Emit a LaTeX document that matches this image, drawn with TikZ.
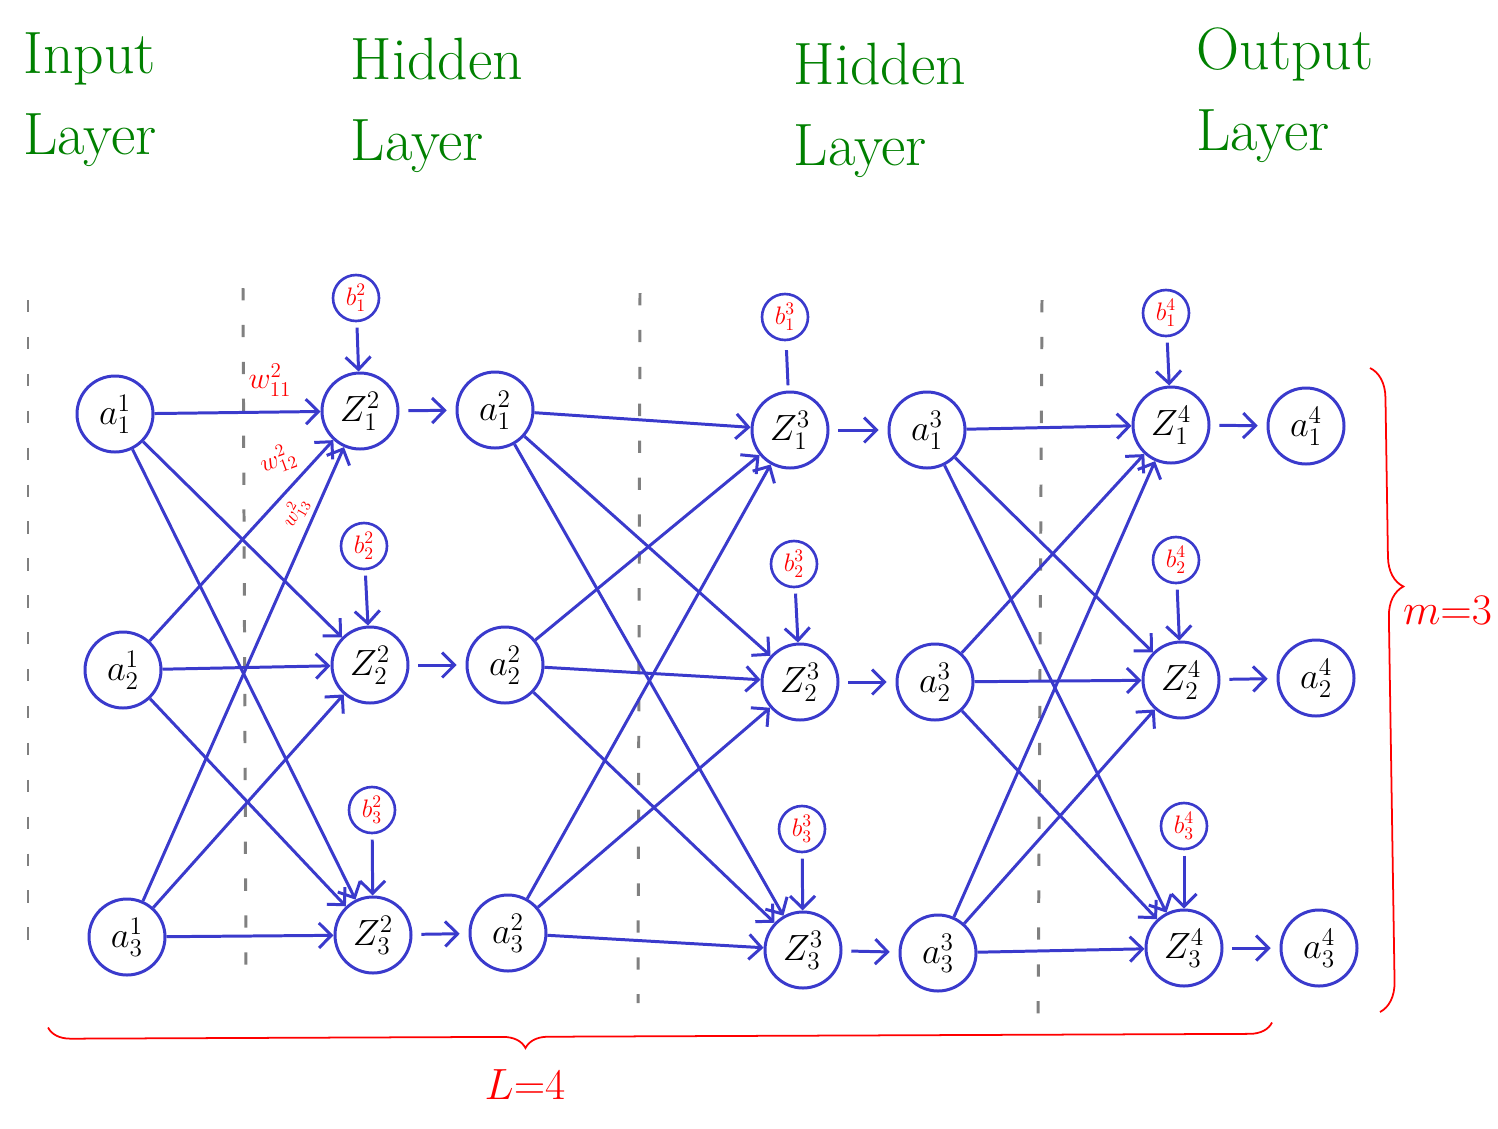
\documentclass[tikz,border=0pt]{standalone}
\usepackage{amsmath,amssymb}
\usepackage{xcolor}
\usetikzlibrary{arrows.meta,decorations.pathreplacing}
\definecolor{azul}{RGB}{58,58,204}
\definecolor{verde}{RGB}{0,128,0}
\definecolor{rojo}{RGB}{255,0,0}
\tikzset{
  neurona/.style={circle, draw=azul, line width=1.7pt, minimum size=1.52cm, inner sep=0pt, font=\huge},
  sesgo/.style={circle, draw=azul, line width=1.5pt, minimum size=0.92cm, inner sep=0pt, font=\Large, text=rojo},
  flecha/.style={-{Straight Barb[length=2.5mm,width=5mm]}, draw=azul, line width=1.7pt},
  paso/.style={flecha, shorten <=5pt, shorten >=5pt},
  capa/.style={align=left, text=verde, font=\fontsize{34}{46}\selectfont},
  corte/.style={gray, line width=1.7pt, dash pattern=on 7pt off 14pt},
  llave/.style={rojo, line width=1pt, decorate},
  etiq/.style={text=rojo, inner sep=1pt},
  peso/.style={etiq, font=\LARGE}
}
\begin{document}
\begin{tikzpicture}
\useasboundingbox (0,0) rectangle (29.96,-22.56);

\node[capa] (t1) at (1.8,-2.0) {Input\\Layer};
\node[capa] (t2) at (8.74,-2.1) {Hidden\\Layer};
\node[capa] (t3) at (17.6,-2.2) {Hidden\\Layer};
\node[capa] (t4) at (25.7,-1.9) {Output\\Layer};

\draw[corte] (0.56,-6.0) -- (0.56,-18.8);
\draw[corte] (4.86,-5.76) -- (4.92,-19.4);
\draw[corte] (12.8,-5.86) -- (12.76,-20.06);
\draw[corte] (20.84,-6.0) -- (20.76,-20.7);

\node[neurona] (a11) at (2.30,-8.28) {$a^{1}_{1}$};
\node[neurona] (a12) at (2.46,-13.40) {$a^{1}_{2}$};
\node[neurona] (a13) at (2.54,-18.74) {$a^{1}_{3}$};
\node[neurona] (z21) at (7.20,-8.22) {$Z^{2}_{1}$};
\node[neurona] (z22) at (7.40,-13.30) {$Z^{2}_{2}$};
\node[neurona] (z23) at (7.46,-18.70) {$Z^{2}_{3}$};
\node[sesgo] (b21) at (7.12,-5.96) {$b^{2}_{1}$};
\node[sesgo] (b22) at (7.28,-10.92) {$b^{2}_{2}$};
\node[sesgo] (b23) at (7.44,-16.20) {$b^{2}_{3}$};
\node[neurona] (a21) at (9.90,-8.20) {$a^{2}_{1}$};
\node[neurona] (a22) at (10.10,-13.30) {$a^{2}_{2}$};
\node[neurona] (a23) at (10.16,-18.66) {$a^{2}_{3}$};
\node[neurona] (z31) at (15.80,-8.60) {$Z^{3}_{1}$};
\node[neurona] (z32) at (16.00,-13.64) {$Z^{3}_{2}$};
\node[neurona] (z33) at (16.06,-19.00) {$Z^{3}_{3}$};
\node[sesgo] (b31) at (15.70,-6.34) {$b^{3}_{1}$};
\node[sesgo] (b32) at (15.88,-11.28) {$b^{3}_{2}$};
\node[sesgo] (b33) at (16.04,-16.58) {$b^{3}_{3}$};
\node[neurona] (a31) at (18.54,-8.60) {$a^{3}_{1}$};
\node[neurona] (a32) at (18.70,-13.64) {$a^{3}_{2}$};
\node[neurona] (a33) at (18.76,-19.06) {$a^{3}_{3}$};
\node[neurona] (z41) at (23.42,-8.50) {$Z^{4}_{1}$};
\node[neurona] (z42) at (23.62,-13.60) {$Z^{4}_{2}$};
\node[neurona] (z43) at (23.68,-18.96) {$Z^{4}_{3}$};
\node[sesgo] (b41) at (23.32,-6.26) {$b^{4}_{1}$};
\node[sesgo] (b42) at (23.52,-11.20) {$b^{4}_{2}$};
\node[sesgo] (b43) at (23.68,-16.52) {$b^{4}_{3}$};
\node[neurona] (a41) at (26.12,-8.52) {$a^{4}_{1}$};
\node[neurona] (a42) at (26.32,-13.56) {$a^{4}_{2}$};
\node[neurona] (a43) at (26.38,-18.96) {$a^{4}_{3}$};

\foreach \i in {1,2,3} {
  \foreach \j in {1,2,3} {
    \draw[flecha] (a1\i) -- (z2\j);
    \draw[flecha] (a2\i) -- (z3\j);
    \draw[flecha] (a3\i) -- (z4\j);
  }
  \draw[paso] (z2\i) -- (a2\i);
  \draw[paso] (z3\i) -- (a3\i);
  \draw[paso] (z4\i) -- (a4\i);
  \draw[flecha, shorten <=3pt] (b2\i) -- (z2\i);
  \draw[flecha, shorten <=3pt] (b4\i) -- (z4\i);
}
\draw[azul, line width=1.7pt, shorten <=5pt, shorten >=3pt] (b31) -- (z31);
\draw[flecha, shorten <=3pt] (b32) -- (z32);
\draw[flecha, shorten <=3pt] (b33) -- (z33);

\node[peso] (w11) at (5.4,-7.6) {$w^{2}_{11}$};
\node[peso, font=\Large, rotate=20] (w12) at (5.56,-9.2) {$w^{2}_{12}$};
\node[peso, font=\large, rotate=60] (w13) at (5.9,-10.25) {$w^{2}_{13}$};

\draw[llave, decoration={brace, amplitude=0.45cm, aspect=0.61}] (25.44,-20.45) -- (0.96,-20.55);
\node[etiq, font=\fontsize{30}{36}\selectfont] (lval) at (10.5,-21.7) {$L{=}4$};
\draw[llave, decoration={brace, amplitude=0.6cm, aspect=0.34}] (27.4,-7.36) -- (27.6,-20.24);
\node[etiq, font=\fontsize{26}{32}\selectfont] (mval) at (28.95,-12.2) {$m{=}3$};
\end{tikzpicture}
\end{document}
